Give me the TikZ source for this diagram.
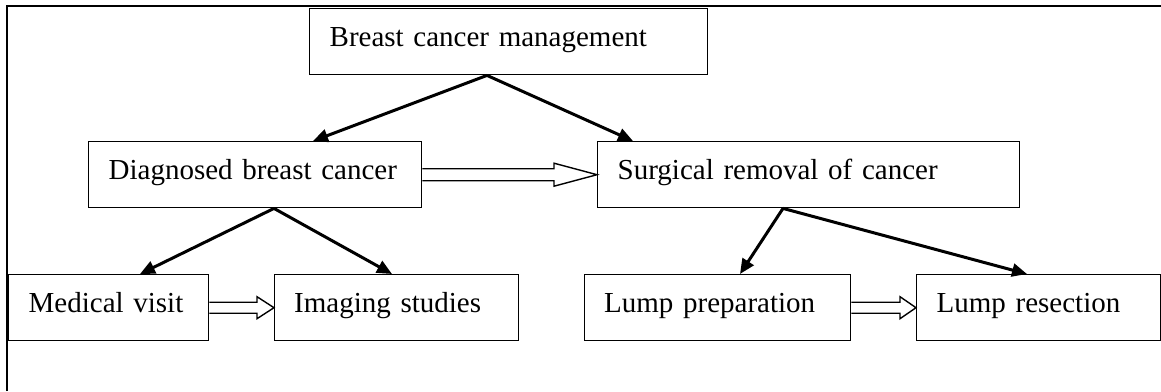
\documentclass[tikz,border=0pt]{standalone}
\usepackage{fontspec}
\setmainfont{Liberation Serif}
\usetikzlibrary{arrows.meta,calc}
\tikzset{
  box/.style={draw, line width=1.4pt, anchor=north west, align=left,
    inner xsep=20pt, inner ysep=0pt, text height=38pt, text depth=28pt,
    font=\fontsize{29}{34}\selectfont},
  conn/.style={line width=3pt, -{Triangle[length=15pt,width=13pt]}},
  blk/.style={draw, line width=1.4pt, fill=white, line join=miter},
  frame/.style={line width=2pt}
}
\newcommand\blockarr[5]{%
  \draw[blk] ($(#1.east)+(0,-#3)$) -- ($(#2.west)+(-#5,-#3)$) -- ($(#2.west)+(-#5,-#4)$)
    -- (#2.west) -- ($(#2.west)+(-#5,#4)$) -- ($(#2.west)+(-#5,#3)$) -- ($(#1.east)+(0,#3)$);}
\begin{document}
\begin{tikzpicture}[x=1pt,y=-1pt]
\useasboundingbox (0,0) rectangle (1161,391);
% frame
\coordinate (fbl) at (6.5,391);
\coordinate (ftl) at (6.5,6);
\coordinate (ftr) at (1161,6);
\draw[frame] (fbl) -- (ftl) -- (ftr);
% boxes
\node[box, text width=358pt] (top) at (309,8) {Breast cancer management};
\node[box, text width=293pt] (diag) at (88,141) {Diagnosed breast cancer};
\node[box, text width=382pt] (surg) at (597,141) {Surgical removal of cancer};
\node[box, text width=160pt] (med) at (8,274) {Medical visit};
\node[box, inner xsep=19.5pt, text width=205pt] (img) at (274,274) {Imaging studies};
\node[box, inner xsep=19.5pt, text width=227pt] (lprep) at (584,274) {Lump preparation};
\node[box, text width=203.5pt] (lres) at (916,274) {Lump resection};
% connectors
\draw[conn] ($(top.south west)+(178,0)$) -- ($(diag.north west)+(225,0)$);
\draw[conn] ($(top.south west)+(178,0)$) -- ($(surg.north west)+(36,0)$);
\draw[conn] ($(diag.south west)+(186,0)$) -- ($(med.north west)+(132,0)$);
\draw[conn] ($(diag.south west)+(186,0)$) -- ($(img.north west)+(118,0)$);
\draw[conn] ($(surg.south west)+(186,0)$) -- ($(lprep.north west)+(156,0)$);
\draw[conn] ($(surg.south west)+(186,0)$) -- ($(lres.north west)+(111,0)$);
% block arrows
\blockarr{diag}{surg}{6}{11.5}{43}
\blockarr{med}{img}{5.5}{11}{17}
\blockarr{lprep}{lres}{5.5}{11}{16}
\end{tikzpicture}
\end{document}
